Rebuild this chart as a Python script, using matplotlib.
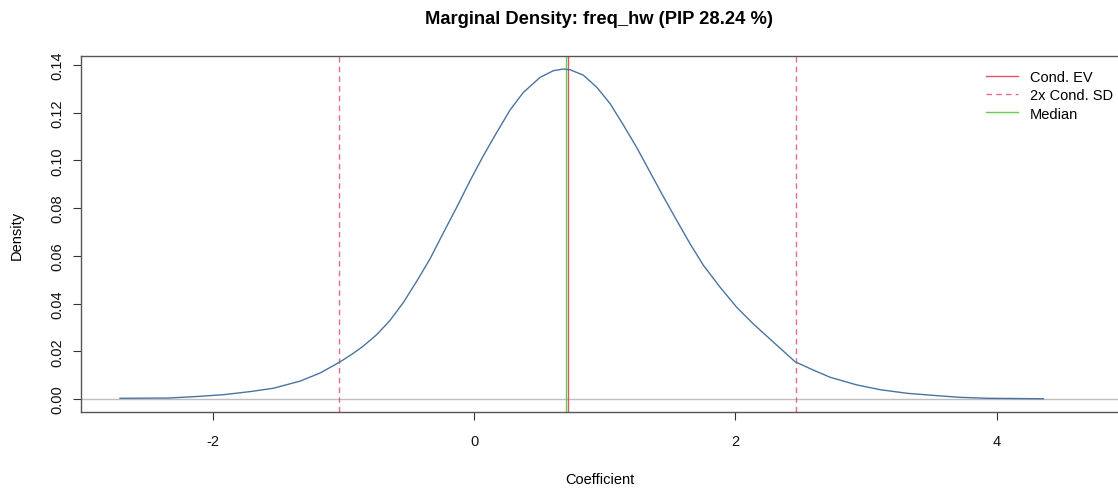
import matplotlib
matplotlib.use("Agg")
import matplotlib.pyplot as plt

plt.rcParams["font.family"] = ["Liberation Sans", "DejaVu Sans"]
plt.rcParams["axes.unicode_minus"] = False

# density curve (coefficient, density)
coef = [-2.711, -2.341, -2.136, -1.920, -1.715, -1.537, -1.332, -1.179, -1.031, -0.929,
        -0.848, -0.745, -0.643, -0.541, -0.439, -0.337, -0.235, -0.132, -0.031, 0.071,
        0.174, 0.276, 0.377, 0.505, 0.607, 0.684, 0.735, 0.837, 0.940, 1.041,
        1.143, 1.246, 1.348, 1.449, 1.552, 1.654, 1.756, 1.884, 2.011, 2.139,
        2.266, 2.458, 2.598, 2.726, 2.930, 3.109, 3.313, 3.543, 3.721, 3.926, 4.359]
dens = [0.0003, 0.0004, 0.0010, 0.0018, 0.0031, 0.0045, 0.0075, 0.0109, 0.0154, 0.0190,
        0.0222, 0.0270, 0.0330, 0.0405, 0.0494, 0.0588, 0.0697, 0.0805, 0.0915, 0.1020,
        0.1118, 0.1212, 0.1285, 0.1348, 0.1376, 0.1383, 0.1380, 0.1357, 0.1306, 0.1238,
        0.1148, 0.1053, 0.0950, 0.0848, 0.0748, 0.0650, 0.0560, 0.0468, 0.0384, 0.0314,
        0.0251, 0.0156, 0.0121, 0.0091, 0.0059, 0.0039, 0.0024, 0.0014, 0.0007, 0.0003, 0.0001]

cond_ev = 0.715
cond_sd = 0.873
median = 0.700
pip = 28.24
var_name = "freq_hw"

RED = "#DF536B"
GREEN = "#61D04F"

fig = plt.figure(figsize=(11.18, 4.89), dpi=100)
ax = fig.add_axes([81 / 1118, 1 - 413 / 489, 1 - 81 / 1118, (413 - 57) / 489])

ax.axhline(0, color="#BEBEBE", lw=1.0, zorder=1)
ax.plot(coef, dens, color="#4a74a0", lw=1.0, zorder=3)
l_ev = ax.axvline(cond_ev, color=RED, lw=1.0, zorder=2)
ax.axvline(cond_ev - 2 * cond_sd, color=RED, lw=1.0, ls=(0, (4, 3)), alpha=0.85, zorder=2)
l_sd = ax.axvline(cond_ev + 2 * cond_sd, color=RED, lw=1.0, ls=(0, (4, 3)), alpha=0.85, zorder=2)
l_med = ax.axvline(median, color=GREEN, lw=1.0, zorder=2)

ax.set_xlim(-3.01, 4.93)
ax.set_ylim(-0.00545, 0.14376)
ax.set_xticks([-2, 0, 2, 4])
ax.set_yticks([0.00, 0.02, 0.04, 0.06, 0.08, 0.10, 0.12, 0.14])
ax.set_yticklabels([f"{v:.2f}" for v in ax.get_yticks()], rotation=90, va="center")
ax.tick_params(axis="both", direction="out", length=6, width=0.8, color="#333333",
               labelsize=10.5, labelcolor="#111111")
ax.tick_params(axis="x", pad=10)
ax.tick_params(axis="y", pad=6)
for s in ["left", "top", "bottom"]:
    ax.spines[s].set_color("#555555")
    ax.spines[s].set_linewidth(1.0)
ax.spines["right"].set_visible(False)

ax.set_xlabel("Coefficient", fontsize=10.5, labelpad=17)
ax.set_ylabel("Density", fontsize=10.5, labelpad=19)
fig.text(599 / 1118, 1 - 20 / 489, f"Marginal Density: {var_name} (PIP {pip:.2f} %)",
         ha="center", va="center", fontsize=13.2, fontweight="bold")

ax.legend([l_ev, l_sd, l_med], ["Cond. EV", "2x Cond. SD", "Median"],
          loc="upper left", bbox_to_anchor=(980 / 1118, 1 - 65 / 489),
          bbox_transform=fig.transFigure, frameon=False, fontsize=10.5,
          handlelength=2.2, handletextpad=0.8, labelspacing=0.3, borderaxespad=0)

fig.savefig("out.png", dpi=100)
